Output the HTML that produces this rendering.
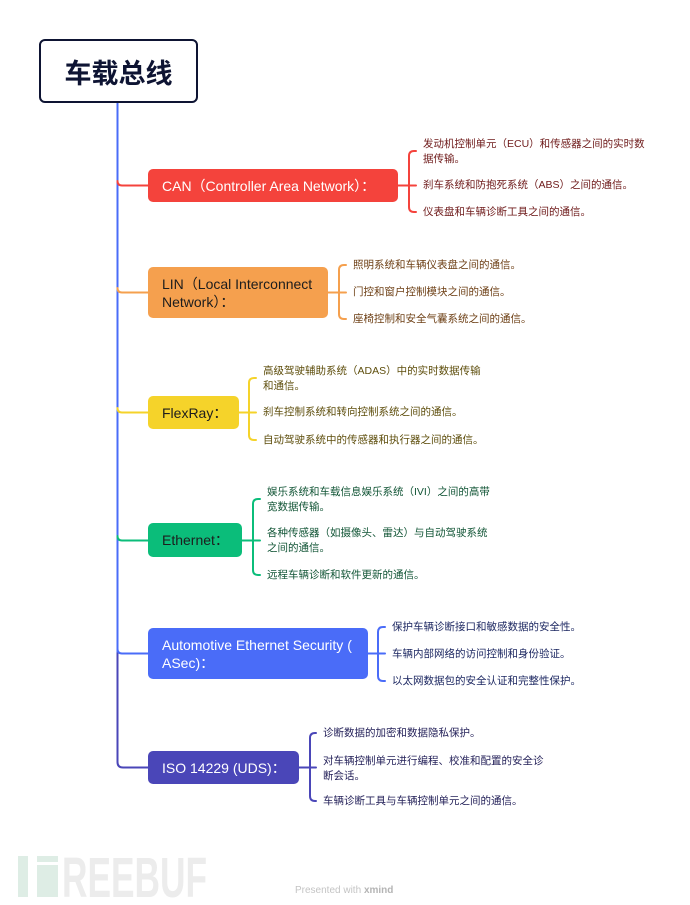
<!DOCTYPE html>
<html>
<head>
<meta charset="utf-8">
<style>
  html, body { margin:0; padding:0; background:#ffffff; }
  body { width:690px; height:905px; position:relative; overflow:hidden;
         font-family:"Liberation Sans","Noto Sans CJK SC",sans-serif; }
  .root { position:absolute; left:39px; top:39px; width:155px; height:60px;
          border:2.5px solid #0e1433; border-radius:6px; background:#fff;
          display:flex; align-items:center; justify-content:center;
          font-size:27px; font-weight:bold; color:#0e1433; }
  .box { position:absolute; left:148px; border-radius:5px; box-sizing:border-box;
         padding-left:14px; display:flex; align-items:center; font-size:14px;
         line-height:18px; white-space:nowrap; }
  .leaf { position:absolute; font-size:10.5px; line-height:15px; white-space:nowrap; }
  .c1 { color:#6e1a1a; }
  .c2 { color:#6e4016; }
  .c3 { color:#5e4e0c; }
  .c4 { color:#125536; }
  .c5 { color:#19245f; }
  .c6 { color:#25225a; }
  svg { position:absolute; left:0; top:0; }
</style>
</head>
<body>

<svg width="690" height="905" viewBox="0 0 690 905">
  <g fill="none" stroke-width="2" stroke-linecap="round">
    <!-- trunk -->
    <path d="M117.5,101 V653" stroke="#4a6cf8"/>
    <path d="M117.5,653 V762 Q117.5,767.5 123,767.5 H148" stroke="#4a46b8"/>
    <!-- branches from trunk -->
    <path d="M117.5,181 Q117.5,185.5 122,185.5 H148" stroke="#f4433c"/>
    <path d="M117.5,288 Q117.5,292.5 122,292.5 H148" stroke="#f5a04e"/>
    <path d="M117.5,408 Q117.5,412.5 122,412.5 H148" stroke="#f5d32a"/>
    <path d="M117.5,536 Q117.5,540.5 122,540.5 H148" stroke="#0bbd7a"/>
    <path d="M117.5,649 Q117.5,653.5 122,653.5 H148" stroke="#4a6cf8"/>

    <!-- CAN bracket -->
    <g stroke="#f4433c">
      <path d="M398,185.5 H416"/>
      <path d="M416,151 H414 Q409,151 409,156 V207 Q409,212 414,212 H416"/>
    </g>
    <!-- LIN bracket -->
    <g stroke="#f5a04e">
      <path d="M328,292.5 H346"/>
      <path d="M346,265 H344 Q339,265 339,270 V314 Q339,319 344,319 H346"/>
    </g>
    <!-- FlexRay bracket -->
    <g stroke="#f5d32a">
      <path d="M239,412.5 H256"/>
      <path d="M256,378 H254 Q249,378 249,383 V435 Q249,440 254,440 H256"/>
    </g>
    <!-- Ethernet bracket -->
    <g stroke="#0bbd7a">
      <path d="M242,540.5 H260"/>
      <path d="M260,499 H258 Q253,499 253,504 V570 Q253,575 258,575 H260"/>
    </g>
    <!-- ASec bracket -->
    <g stroke="#4a6cf8">
      <path d="M368,653.5 H385"/>
      <path d="M385,627 H383 Q378,627 378,632 V676 Q378,681 383,681 H385"/>
    </g>
    <!-- ISO bracket -->
    <g stroke="#4a46b8">
      <path d="M299,767.5 H316"/>
      <path d="M316,733 H315 Q310,733 310,738 V796 Q310,801 315,801 H316"/>
    </g>
  </g>

  <!-- watermark -->
  <rect x="18" y="856" width="10" height="41" fill="#deede5"/>
  <rect x="37" y="856" width="21" height="6" fill="#deede5"/>
  <rect x="37" y="865" width="21" height="32" fill="#deede5"/>
  <text x="62" y="897" font-family="Liberation Sans, sans-serif" font-weight="bold" font-size="57" fill="#ececec" textLength="145" lengthAdjust="spacingAndGlyphs">REEBUF</text>
  <text x="295" y="893" font-family="Liberation Sans, sans-serif" font-size="10" fill="#c4c4c4">Presented with <tspan font-weight="bold" fill="#b4b4b4">xmind</tspan></text>
</svg>

<div class="root">车载总线</div>

<!-- CAN -->
<div class="box" style="top:169px;width:250px;height:33px;background:#f4433c;color:#fff;">CAN（Controller Area Network）：</div>
<div class="leaf c1" style="left:423px;top:136.5px;">发动机控制单元（ECU）和传感器之间的实时数<br>据传输。</div>
<div class="leaf c1" style="left:423px;top:177.5px;">刹车系统和防抱死系统（ABS）之间的通信。</div>
<div class="leaf c1" style="left:423px;top:205px;">仪表盘和车辆诊断工具之间的通信。</div>

<!-- LIN -->
<div class="box" style="top:267px;width:180px;height:51px;background:#f5a04e;color:#1d1d1d;">LIN（Local Interconnect<br>Network）：</div>
<div class="leaf c2" style="left:353px;top:257.5px;">照明系统和车辆仪表盘之间的通信。</div>
<div class="leaf c2" style="left:353px;top:284.5px;">门控和窗户控制模块之间的通信。</div>
<div class="leaf c2" style="left:353px;top:311.5px;">座椅控制和安全气囊系统之间的通信。</div>

<!-- FlexRay -->
<div class="box" style="top:396px;width:91px;height:33px;background:#f5d32a;color:#1d1d1d;">FlexRay：</div>
<div class="leaf c3" style="left:263px;top:363.5px;">高级驾驶辅助系统（ADAS）中的实时数据传输<br>和通信。</div>
<div class="leaf c3" style="left:263px;top:404.5px;">刹车控制系统和转向控制系统之间的通信。</div>
<div class="leaf c3" style="left:263px;top:432.5px;">自动驾驶系统中的传感器和执行器之间的通信。</div>

<!-- Ethernet -->
<div class="box" style="top:523px;width:94px;height:34px;background:#0bbd7a;color:#1d1d1d;">Ethernet：</div>
<div class="leaf c4" style="left:267px;top:484.5px;">娱乐系统和车载信息娱乐系统（IVI）之间的高带<br>宽数据传输。</div>
<div class="leaf c4" style="left:267px;top:525.5px;">各种传感器（如摄像头、雷达）与自动驾驶系统<br>之间的通信。</div>
<div class="leaf c4" style="left:267px;top:567.5px;">远程车辆诊断和软件更新的通信。</div>

<!-- ASec -->
<div class="box" style="top:628px;width:220px;height:51px;background:#4a6cf8;color:#fff;">Automotive Ethernet Security (<br>ASec)：</div>
<div class="leaf c5" style="left:392px;top:619.5px;">保护车辆诊断接口和敏感数据的安全性。</div>
<div class="leaf c5" style="left:392px;top:646.5px;">车辆内部网络的访问控制和身份验证。</div>
<div class="leaf c5" style="left:392px;top:673.5px;">以太网数据包的安全认证和完整性保护。</div>

<!-- ISO -->
<div class="box" style="top:751px;width:151px;height:33px;background:#4a46b8;color:#fff;">ISO 14229 (UDS)：</div>
<div class="leaf c6" style="left:323px;top:725.5px;">诊断数据的加密和数据隐私保护。</div>
<div class="leaf c6" style="left:323px;top:753.5px;">对车辆控制单元进行编程、校准和配置的安全诊<br>断会话。</div>
<div class="leaf c6" style="left:323px;top:793.5px;">车辆诊断工具与车辆控制单元之间的通信。</div>

</body>
</html>
